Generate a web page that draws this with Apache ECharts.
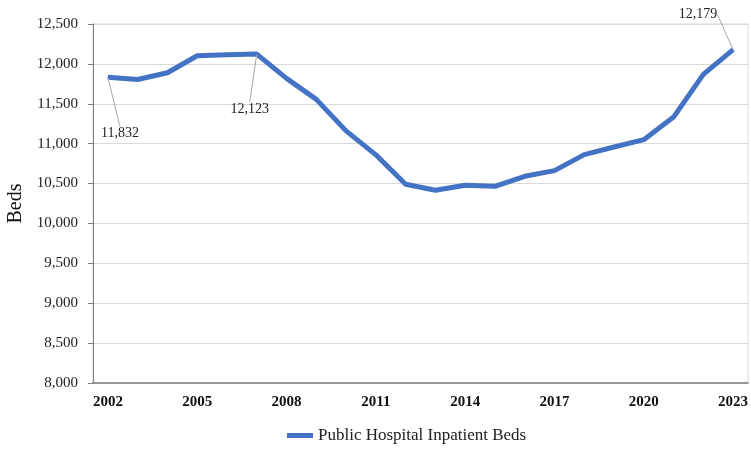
<!DOCTYPE html>
<html><head><meta charset="utf-8">
<script src="https://cdn.jsdelivr.net/npm/echarts@6/dist/echarts.min.js"></script>
<style>html,body{margin:0;padding:0;background:#fff}#c{width:751px;height:450px}</style>
</head><body><div id="c"></div>
<script>
var years = ['2002','2003','2004','2005','2006','2007','2008','2009','2010','2011','2012','2013','2014','2015','2016','2017','2018','2019','2020','2021','2022','2023'];
var beds = [11832,11805,11889,12102,12114,12123,11818,11555,11160,10860,10491,10416,10478,10466,10591,10662,10863,10958,11050,11333,11868,12179];
var labelled = {0:[12,56],5:[-7,55],21:[-35,-35]};
var serif = '"Liberation Serif","Times New Roman",serif';
var chart = echarts.init(document.getElementById('c'));
chart.setOption({
  animation:false,
  grid:{left:93,right:3,top:24,bottom:67,show:true,borderColor:'#d9d9d9',borderWidth:1,
    containLabel:false,outerBoundsMode:'none'},
  legend:{bottom:1,left:282,itemWidth:26,itemHeight:5,icon:'rect',
    textStyle:{fontFamily:serif,fontSize:17,color:'#222'},data:['Public Hospital Inpatient Beds']},
  xAxis:{type:'category',data:years,boundaryGap:true,
    axisLine:{lineStyle:{color:'#7f7f7f',width:1.5}},axisTick:{show:false},
    axisLabel:{interval:2,fontFamily:serif,fontWeight:'bold',fontSize:15,color:'#111',margin:12}},
  yAxis:{type:'value',min:8000,max:12500,interval:500,name:'Beds',nameLocation:'middle',nameGap:63,
    nameTextStyle:{fontFamily:serif,fontSize:20,color:'#111'},
    axisLine:{show:true,lineStyle:{color:'#7f7f7f'}},axisTick:{show:true,length:5,lineStyle:{color:'#7f7f7f'}},
    splitLine:{lineStyle:{color:'#d9d9d9'}},
    axisLabel:{fontFamily:serif,fontSize:15,color:'#222',margin:15,
      formatter:function(v){return v.toLocaleString('en-US');}}},
  series:[{name:'Public Hospital Inpatient Beds',type:'line',data:beds.map(function(v,i){
      return labelled[i]?{value:v,label:{show:true}}:v;}),
    symbol:'circle',symbolSize:1,showSymbol:true,
    lineStyle:{color:'#4472c4',width:5},itemStyle:{color:'#4472c4'},
    label:{show:false,position:'inside',fontFamily:serif,fontSize:14,color:'#222',
      formatter:function(p){return p.value.toLocaleString('en-US');}},
    labelLine:{show:true,lineStyle:{color:'#a6a6a6',width:1}},
    labelLayout:function(p){var d=labelled[p.dataIndex];return d?{dx:d[0],dy:d[1]}:{};}
  }]
});
</script></body></html>
